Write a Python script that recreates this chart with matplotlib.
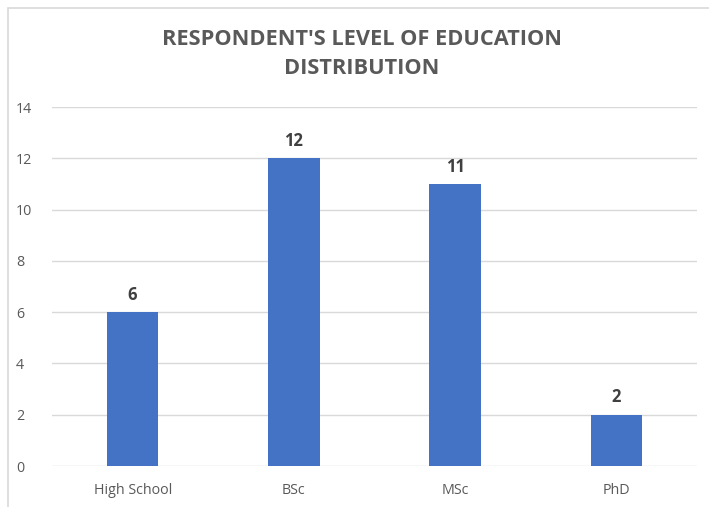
import matplotlib
matplotlib.use("Agg")
import matplotlib.pyplot as plt
from matplotlib.patches import Rectangle

categories = ["High School", "BSc", "MSc", "PhD"]
counts = [6, 12, 11, 2]
yticks = [0, 2, 4, 6, 8, 10, 12, 14]

plt.rcParams['font.family'] = ['Open Sans', 'DejaVu Sans']

W, H = 709, 507
fig = plt.figure(figsize=(W / 100, H / 100), dpi=100)

# chart area border (Excel style), cut off at right/bottom
fig.patches.append(Rectangle((8 / W, -0.1), 1.2, (H - 8) / H + 0.1,
                             transform=fig.transFigure, fill=False,
                             edgecolor="#d9d9d9", linewidth=1.2))

ax = fig.add_axes([52 / W, (H - 466) / H, (697 - 52) / W, (466 - 107) / H])
x = range(len(categories))
bars = ax.bar(x, counts, width=0.32, color="#4472c4", zorder=3)

ax.set_ylim(0, 14)
ax.set_xlim(-0.5, len(categories) - 0.5)
ax.set_yticks(yticks)
ax.set_xticks(list(x))
ax.set_xticklabels(categories)
ax.grid(axis="y", color="#d9d9d9", linewidth=1, zorder=0)
for s in ax.spines.values():
    s.set_visible(False)
ax.tick_params(length=0, labelsize=10.3, labelcolor="#595959")
ax.tick_params(axis="x", pad=12)
ax.tick_params(axis="y", pad=26)
for lbl in ax.get_yticklabels():
    lbl.set_horizontalalignment("left")

for b, v in zip(bars, counts):
    ax.annotate(str(v), (b.get_x() + b.get_width() / 2, v), xytext=(0, 6),
                textcoords="offset points", ha="center", va="bottom",
                fontsize=12, fontweight="bold", color="#404040")

fig.text(362 / W, 1 - 54 / H, "RESPONDENT'S LEVEL OF EDUCATION\nDISTRIBUTION",
         ha="center", va="center", fontsize=15.7, fontweight="bold",
         color="#595959", linespacing=1.5)

fig.savefig("out.png", dpi=100)
